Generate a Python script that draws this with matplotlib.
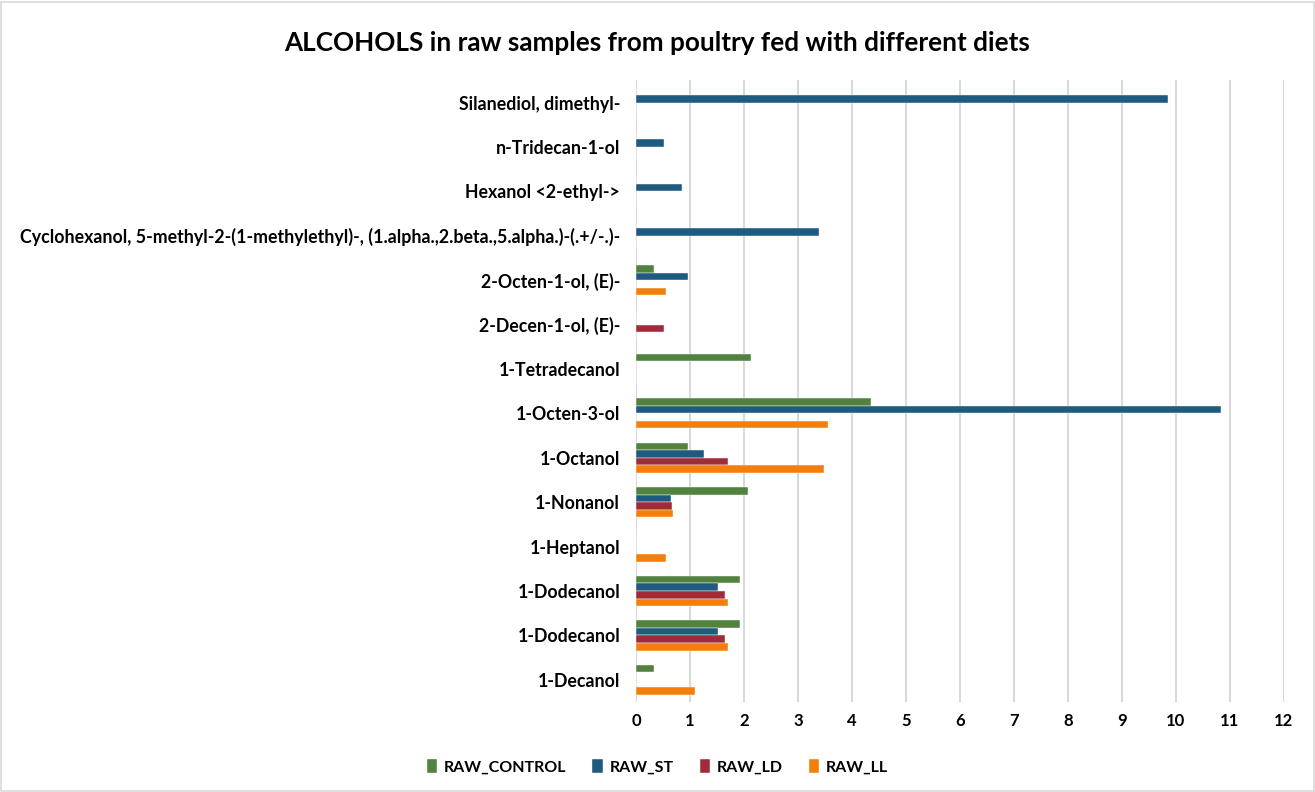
import matplotlib.pyplot as plt
from matplotlib.patches import Rectangle
import numpy as np

plt.rcParams['font.family'] = ['Lato', 'DejaVu Sans']
plt.rcParams['font.weight'] = 'bold'

# compounds listed bottom to top
compounds = ['1-Decanol', '1-Dodecanol', '1-Dodecanol', '1-Heptanol', '1-Nonanol',
             '1-Octanol', '1-Octen-3-ol', '1-Tetradecanol', '2-Decen-1-ol, (E)-',
             '2-Octen-1-ol, (E)-',
             'Cyclohexanol, 5-methyl-2-(1-methylethyl)-, (1.alpha.,2.beta.,5.alpha.)-(.+/-.)-',
             'Hexanol <2-ethyl->', 'n-Tridecan-1-ol', 'Silanediol, dimethyl-']

raw_control = [0.34, 1.92, 1.92, 0, 2.08, 0.97, 4.35, 2.12, 0, 0.34, 0, 0, 0, 0]
raw_st = [0, 1.51, 1.51, 0, 0.64, 1.25, 10.83, 0, 0, 0.97, 3.39, 0.85, 0.51, 9.86]
raw_ld = [0, 1.64, 1.64, 0, 0.67, 1.70, 0, 0, 0.51, 0, 0, 0, 0, 0]
raw_ll = [1.09, 1.70, 1.70, 0.56, 0.69, 3.49, 3.56, 0, 0, 0.56, 0, 0, 0, 0]

series = [('RAW_CONTROL', raw_control, '#538240'),
          ('RAW_ST', raw_st, '#1F5A80'),
          ('RAW_LD', raw_ld, '#A02B3A'),
          ('RAW_LL', raw_ll, '#F27F0C')]

fig = plt.figure(figsize=(13.15, 7.92), dpi=100)
ax = fig.add_axes([0.4837, 0.1136, 0.4927, 0.785])

y = np.arange(len(compounds))
h = 0.17
for k, (name, vals, col) in enumerate(series):
    ax.barh(y + (1.5 - k) * h, vals, height=h, color=col, label=name,
            edgecolor='white', linewidth=0.3)

ax.set_xlim(0, 12)
ax.set_ylim(-0.5, len(compounds) - 0.5)
ax.set_xticks(range(13))
ax.set_yticks(y)
ax.set_yticklabels(compounds)
ax.tick_params(axis='y', length=0, pad=11.5, labelsize=12.8)
ax.tick_params(axis='x', length=0, pad=8, labelsize=12)
for lab in ax.get_xticklabels() + ax.get_yticklabels():
    lab.set_fontweight('bold')

ax.grid(axis='x', color='#D9D9D9', linewidth=1.5)
ax.set_axisbelow(True)
for s in ax.spines.values():
    s.set_visible(False)

fig.text(0.5, 1 - 43 / 792, 'ALCOHOLS in raw samples from poultry fed with different diets',
         ha='center', va='center', fontsize=18.8, fontweight='bold')

fig.legend(loc='center', bbox_to_anchor=(0.5, 1 - 767 / 792), ncol=4, frameon=False,
           handlelength=0.65, handleheight=1.0, columnspacing=1.6, handletextpad=0.45,
           prop={'weight': 'bold', 'size': 11.5})

# thin frame around the chart area
fig.patches.append(Rectangle((0.001, 0.001), 0.998, 0.997, transform=fig.transFigure,
                             fill=False, edgecolor='#D9D9D9', linewidth=1.2))

fig.savefig('out.png', dpi=100)
